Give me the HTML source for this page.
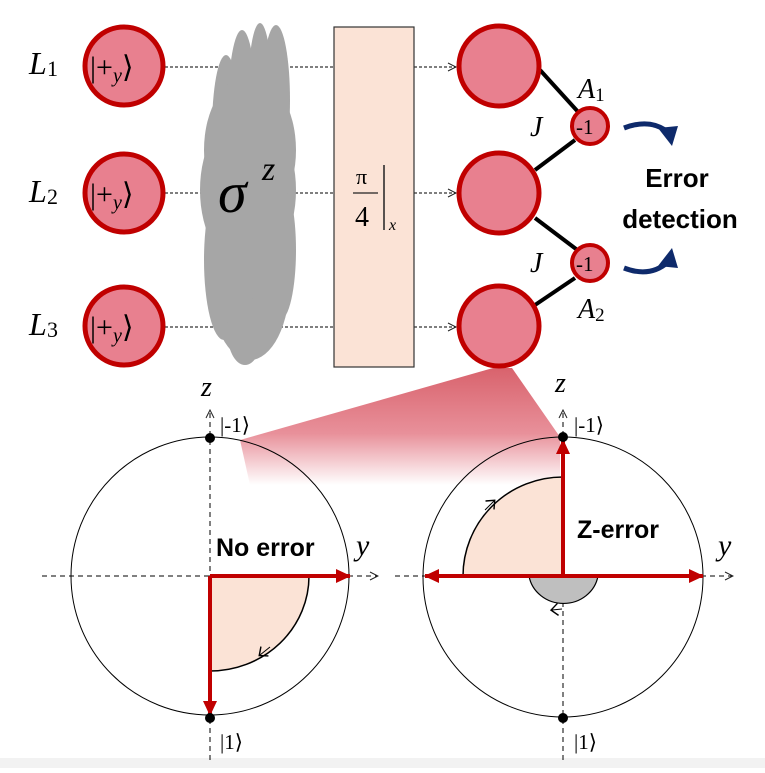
<!DOCTYPE html>
<html><head><meta charset="utf-8"><style>
body{margin:0;background:#fff;width:765px;height:768px;overflow:hidden}
text{font-family:"Liberation Serif",serif}
.it{font-style:italic}
.b{font-family:"Liberation Sans",sans-serif;font-weight:bold}
</style></head><body>
<svg width="765" height="768" viewBox="0 0 765 768" xmlns="http://www.w3.org/2000/svg">
<defs>
<linearGradient id="fg" x1="0" y1="370" x2="0" y2="485" gradientUnits="userSpaceOnUse">
<stop offset="0" stop-color="#d9646e"/><stop offset="0.55" stop-color="#e8909a"/><stop offset="1" stop-color="#fff"/>
</linearGradient>
<marker id="oa" markerWidth="10" markerHeight="10" refX="9" refY="5" orient="auto" markerUnits="userSpaceOnUse"><path d="M1,1 L9,5 L1,9" fill="none" stroke="#222" stroke-width="1"/></marker>
<marker id="ra" markerWidth="16" markerHeight="16" refX="14" refY="8" orient="auto" markerUnits="userSpaceOnUse"><path d="M0,1 L15,8 L0,15 Z" fill="#c00000"/></marker>
<marker id="sa" markerWidth="14" markerHeight="14" refX="7" refY="7" orient="auto" markerUnits="userSpaceOnUse"><path d="M1,1 L8,7 L1,13" fill="none" stroke="#000" stroke-width="1.4"/></marker>
</defs>
<rect x="0" y="758" width="765" height="10" fill="#f2f2f2"/>
<polygon points="240,440 493,368 512,368 560,437 560,485 250,485" fill="url(#fg)"/>
<g stroke="#333" stroke-width="1.2" stroke-dasharray="3,2">
<line x1="165" y1="67" x2="334" y2="67"/><line x1="165" y1="193" x2="334" y2="193"/><line x1="165" y1="327" x2="334" y2="327"/>
<line x1="414" y1="67" x2="456" y2="67" marker-end="url(#oa)"/><line x1="414" y1="193" x2="456" y2="193" marker-end="url(#oa)"/><line x1="414" y1="327" x2="456" y2="327" marker-end="url(#oa)"/>
</g>
<g fill="#a6a6a6">
<ellipse cx="226" cy="130" rx="14" ry="75"/><ellipse cx="242" cy="110" rx="14" ry="80"/><ellipse cx="260" cy="95" rx="12" ry="72"/><ellipse cx="276" cy="100" rx="14" ry="75"/>
<ellipse cx="248" cy="190" rx="48" ry="80"/><ellipse cx="224" cy="260" rx="20" ry="80"/><ellipse cx="250" cy="280" rx="40" ry="80"/><ellipse cx="280" cy="250" rx="16" ry="70"/>
<ellipse cx="250" cy="150" rx="46" ry="75"/><ellipse cx="245" cy="330" rx="18" ry="35"/>
</g>
<text x="218" y="212" font-size="58" class="it">σ</text><text x="262" y="180" font-size="34" class="it">z</text>
<rect x="334" y="27" width="80" height="340" fill="#fbe3d6" stroke="#333" stroke-width="1.2"/>
<text x="356" y="184" font-size="22">π</text><line x1="353" y1="193" x2="378" y2="193" stroke="#222" stroke-width="1.3"/><text x="355" y="226" font-size="28">4</text>
<line x1="384" y1="165" x2="384" y2="230" stroke="#222" stroke-width="1.5"/><text x="389" y="230" font-size="16" class="it">x</text>
<g fill="#e8808f" stroke="#c00000" stroke-width="5">
<circle cx="124" cy="66" r="39"/><circle cx="124" cy="193" r="39"/><circle cx="124" cy="326" r="39"/>
</g>
<g font-size="30"><text x="90" y="77">|+<tspan class="it" font-size="20" dy="5">y</tspan><tspan dy="-5">⟩</tspan></text>
<text x="90" y="204">|+<tspan class="it" font-size="20" dy="5">y</tspan><tspan dy="-5">⟩</tspan></text>
<text x="90" y="337">|+<tspan class="it" font-size="20" dy="5">y</tspan><tspan dy="-5">⟩</tspan></text></g>
<g font-size="32"><text x="29" y="74" class="it">L</text><text x="47" y="76" font-size="22">1</text>
<text x="29" y="202" class="it">L</text><text x="47" y="204" font-size="22">2</text>
<text x="29" y="335" class="it">L</text><text x="47" y="337" font-size="22">3</text></g>
<g stroke="#000" stroke-width="4"><line x1="540" y1="70" x2="580" y2="114"/><line x1="575" y1="140" x2="535" y2="170"/><line x1="535" y1="218" x2="580" y2="252"/><line x1="575" y1="278" x2="535" y2="305"/></g>
<g fill="#e8808f" stroke="#c00000" stroke-width="5">
<circle cx="499" cy="66" r="40"/><circle cx="499" cy="193" r="40"/><circle cx="499" cy="326" r="40"/>
<circle cx="590" cy="126" r="18" stroke-width="4"/><circle cx="590" cy="263" r="18" stroke-width="4"/>
</g>
<text x="576" y="134" font-size="21">-1</text><text x="576" y="271" font-size="21">-1</text>
<text x="530" y="136" font-size="28" class="it">J</text><text x="530" y="272" font-size="28" class="it">J</text>
<text x="578" y="98" font-size="28" class="it">A<tspan font-size="19" font-style="normal" dy="3">1</tspan></text>
<text x="578" y="318" font-size="28" class="it">A<tspan font-size="19" font-style="normal" dy="3">2</tspan></text>
<g fill="none" stroke="#0e2a6b" stroke-width="5"><path d="M624,128 Q650,118 668,132"/><path d="M624,268 Q650,278 668,262"/></g>
<path d="M658,128 L678,126 L672,146 Z" fill="#0e2a6b"/><path d="M658,266 L678,268 L672,248 Z" fill="#0e2a6b"/>
<text x="677" y="187" font-size="26" class="b" text-anchor="middle">Error</text><text x="680" y="228" font-size="26" class="b" text-anchor="middle">detection</text>
<path d="M210,576 L309,576 A99,95 0 0 1 210,671 Z" fill="#fbe3d6"/>
<path d="M309,576 A99,95 0 0 1 210,671" fill="none" stroke="#000" stroke-width="1.5"/>
<path d="M270,647 L260,655" stroke="#000" marker-end="url(#sa)" fill="none"/>
<circle cx="210" cy="576" r="139" fill="none" stroke="#000" stroke-width="1"/>
<g stroke="#000" stroke-width="1" stroke-dasharray="5,4" fill="none">
<line x1="210" y1="760" x2="210" y2="410" marker-end="url(#oa)"/><line x1="42" y1="576" x2="378" y2="576" marker-end="url(#oa)"/>
<line x1="563" y1="760" x2="563" y2="410" marker-end="url(#oa)"/><line x1="395" y1="576" x2="733" y2="576" marker-end="url(#oa)"/>
</g>
<g stroke="#c00000" stroke-width="4"><line x1="210" y1="576" x2="350" y2="576" marker-end="url(#ra)"/><line x1="210" y1="576" x2="210" y2="715" marker-end="url(#ra)"/></g>
<circle cx="210" cy="438" r="5"/><circle cx="210" cy="718" r="5"/>
<text x="216" y="556" font-size="25" class="b">No error</text>
<text x="356" y="555" font-size="30" class="it">y</text>
<text x="201" y="396" font-size="28" class="it">z</text>
<text x="220" y="432" font-size="21">|-1⟩</text><text x="220" y="749" font-size="21">|1⟩</text>
<path d="M563,576 L463,576 A100,99 0 0 1 563,477 Z" fill="#fbe3d6"/>
<path d="M463,576 A100,99 0 0 1 563,477" fill="none" stroke="#000" stroke-width="1.5"/>
<path d="M529,576 A35,33 0 0 0 598,576 Z" fill="#bfbfbf" stroke="#000" stroke-width="1.2"/>
<path d="M485,510 L494,501" stroke="#000" marker-end="url(#sa)" fill="none"/>
<path d="M562,609 L552,610" stroke="#000" marker-end="url(#sa)" fill="none"/>
<circle cx="563" cy="577" r="140" fill="none" stroke="#000" stroke-width="1"/>
<g stroke="#c00000" stroke-width="4"><line x1="563" y1="576" x2="563" y2="440" marker-end="url(#ra)"/><line x1="563" y1="576" x2="425" y2="576" marker-end="url(#ra)"/><line x1="563" y1="576" x2="703" y2="576" marker-end="url(#ra)"/></g>
<circle cx="563" cy="437" r="5"/><circle cx="563" cy="718" r="5"/>
<text x="577" y="538" font-size="25" class="b">Z-error</text>
<text x="718" y="555" font-size="30" class="it">y</text>
<text x="555" y="392" font-size="28" class="it">z</text>
<text x="574" y="432" font-size="21">|-1⟩</text><text x="574" y="749" font-size="21">|1⟩</text>
</svg>
</body></html>
